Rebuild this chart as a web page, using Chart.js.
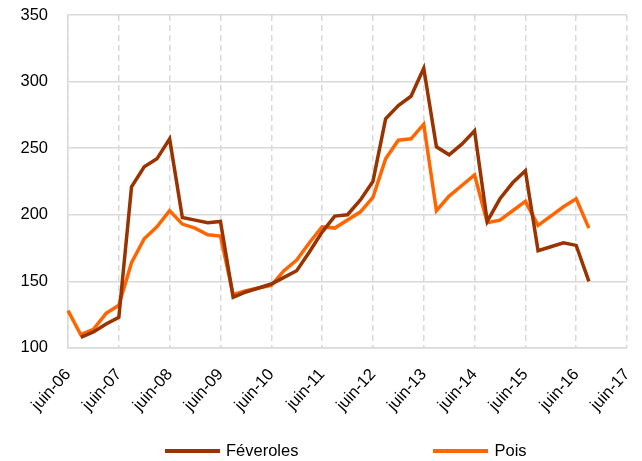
<!DOCTYPE html>
<html lang="fr">
<head>
<meta charset="utf-8">
<title>Féveroles et pois</title>
<script src="https://cdn.jsdelivr.net/npm/chart.js@4.4.1/dist/chart.umd.min.js"></script>
<style>
    html, body { margin: 0; padding: 0; background: #fff; }
    #wrap { position: relative; width: 642px; height: 461px; }
    #legend {
        position: absolute; left: 165px; top: 441px;
        display: flex; align-items: center;
        font: 16.5px "Liberation Sans", Arial, sans-serif;
        color: #000;
    }
    #legend .item { display: flex; align-items: center; margin-right: 135px; }
    #legend .swatch { width: 55px; height: 4px; margin-right: 6px; }
</style>
</head>
<body>
<div id="wrap">
    <canvas id="chart" width="642" height="461"></canvas>
    <div id="legend"></div>
</div>
<script>
// quarterly categories, juin-06 .. juin-17
const categories = [
    'juin-06', 'sept-06', 'déc-06',
    'mars-07', 'juin-07', 'sept-07', 'déc-07',
    'mars-08', 'juin-08', 'sept-08', 'déc-08',
    'mars-09', 'juin-09', 'sept-09', 'déc-09',
    'mars-10', 'juin-10', 'sept-10', 'déc-10',
    'mars-11', 'juin-11', 'sept-11', 'déc-11',
    'mars-12', 'juin-12', 'sept-12', 'déc-12',
    'mars-13', 'juin-13', 'sept-13', 'déc-13',
    'mars-14', 'juin-14', 'sept-14', 'déc-14',
    'mars-15', 'juin-15', 'sept-15', 'déc-15',
    'mars-16', 'juin-16', 'sept-16', 'déc-16',
    'mars-17', 'juin-17'
];

// labels shown on the x axis
const tickLabels = [
    'juin-06', 'juin-07', 'juin-08', 'juin-09', 'juin-10', 'juin-11',
    'juin-12', 'juin-13', 'juin-14', 'juin-15', 'juin-16', 'juin-17'
];

const feveroles = [
    null, 108, 112,
    118, 123, 221, 236,
    242, 257, 198, 196,
    194, 195, 138, 142,
    145, 148, 153, 158,
    172, 187, 199, 200,
    211, 225, 272, 282,
    289, 310, 251, 245,
    253, 263, 195, 212,
    224, 233, 173, 176,
    179, 177, 150, null,
    null, null
];

const pois = [
    128, 110, 114,
    126, 132, 164, 182,
    191, 203, 193, 190,
    185, 184, 140, 143,
    145, 147, 158, 166,
    179, 191, 190, 196,
    202, 213, 242, 256,
    257, 268, 203, 214,
    222, 230, 194, 196,
    203, 210, 192, 199,
    206, 212, 190, null,
    null, null
];

const yTicks = [100, 150, 200, 250, 300, 350];

const textFont = { family: '"Liberation Sans", Arial, sans-serif', size: 16.5 };
const gridColor = '#d9d9d9';

// let the layout padding alone decide the plot edges
function noAxisPadding(scale) {
    scale.paddingLeft = 0;
    scale.paddingRight = 0;
    scale.paddingTop = 0;
    scale.paddingBottom = 0;
}

const chart = new Chart(document.getElementById('chart').getContext('2d'), {
    type: 'line',
    data: {
        labels: categories,
        datasets: [
            {
                label: 'Féveroles',
                data: feveroles,
                borderColor: '#993300',
                backgroundColor: '#993300'
            },
            {
                label: 'Pois',
                data: pois,
                borderColor: '#ff6600',
                backgroundColor: '#ff6600'
            }
        ]
    },
    options: {
        responsive: false,
        animation: false,
        layout: { padding: { left: 21, right: 15, top: 15, bottom: 29 } },
        elements: {
            point: { radius: 0 },
            line: { tension: 0, borderWidth: 3.5, fill: false }
        },
        plugins: {
            legend: { display: false },
            tooltip: { enabled: false }
        },
        scales: {
            x: {
                offset: false,
                afterFit: noAxisPadding,
                grid: {
                    drawTicks: false,
                    lineWidth: 1.5,
                    color: function (c) {
                        return tickLabels.includes(categories[c.index]) ? gridColor : 'transparent';
                    }
                },
                border: { color: gridColor, width: 1.5, dash: [6, 4] },
                ticks: {
                    autoSkip: false,
                    minRotation: 48,
                    maxRotation: 48,
                    padding: 17,
                    color: '#000',
                    font: textFont,
                    callback: function (value, index) {
                        const lab = categories[index];
                        return tickLabels.includes(lab) ? lab : '';
                    }
                }
            },
            y: {
                min: yTicks[0],
                max: yTicks[yTicks.length - 1],
                afterFit: function (scale) {
                    noAxisPadding(scale);
                    scale.width = 47;
                },
                grid: { drawTicks: false, lineWidth: 1.5, color: gridColor },
                border: { color: gridColor, width: 1.5 },
                afterBuildTicks: function (axis) {
                    axis.ticks = yTicks.map(v => ({ value: v }));
                },
                ticks: { padding: 20, color: '#000', font: textFont }
            }
        }
    }
});

// legend built from the datasets
const legendEl = document.getElementById('legend');
chart.data.datasets.forEach(function (ds) {
    const item = document.createElement('div');
    item.className = 'item';
    const sw = document.createElement('span');
    sw.className = 'swatch';
    sw.style.background = ds.borderColor;
    const txt = document.createElement('span');
    txt.textContent = ds.label;
    item.appendChild(sw);
    item.appendChild(txt);
    legendEl.appendChild(item);
});
</script>
</body>
</html>
